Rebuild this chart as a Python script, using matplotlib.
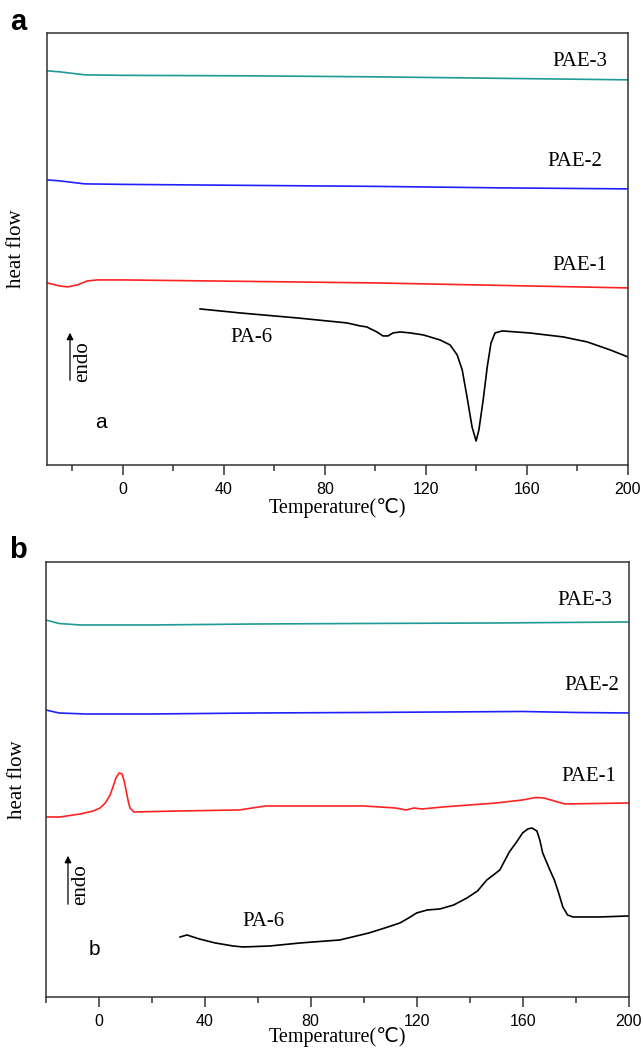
import matplotlib
matplotlib.use("Agg")
import matplotlib.pyplot as plt
from matplotlib.ticker import MultipleLocator

# ---- panel a data (temperature in C, heat flow in arbitrary units) ----
a_pae3_t = [-30, -25, -15, 0, 50, 100, 150, 200]
a_pae3_y = [394, 393, 390, 389.5, 389, 388, 386.5, 385]
a_pae2_t = [-30, -25, -15, 0, 50, 100, 150, 200]
a_pae2_y = [285, 284, 281, 280.5, 279.5, 278.5, 277, 276]
a_pae1_t = [-30, -25, -22, -18, -14, -10, 0, 50, 100, 150, 200]
a_pae1_y = [182, 179, 178, 180, 184, 185, 185, 183.5, 182, 179.5, 177]
a_pa6_t = [30.6, 46.4, 69, 88.8, 94, 96.6, 100.6, 103, 105, 107, 109.8, 113.8,
           119, 125.6, 129.6, 132.4, 134.4, 136.3, 138.3, 139.9, 141, 142.7,
           144.3, 145.8, 147.4, 150.2, 161, 174.4, 183.9, 193, 197, 200]
a_pa6_y = [156, 152, 147, 142, 139, 138, 133, 129, 129, 132, 133, 132,
           130, 125, 120, 110, 95, 68, 38, 24, 35, 65,
           98, 122, 132, 134, 132, 128, 123, 115, 111, 108]

# ---- panel b data ----
b_pae3_t = [-20, -15, -7, 20, 60, 100, 150, 200]
b_pae3_y = [377, 373.5, 372, 372, 373, 373.5, 374, 375]
b_pae2_t = [-20, -15, -5, 20, 60, 100, 160, 180, 200]
b_pae2_y = [287, 284, 283, 283, 284, 284.5, 285.5, 284.5, 284]
b_pae1_t = [-20, -14.6, -7, -2, 0.5, 2.5, 4.3, 5.5, 6.5, 7.7, 8.8, 9.6, 10.3,
            11.2, 11.8, 13.3, 30, 53, 58, 63, 87, 100, 112, 116, 119, 122, 130,
            150, 160, 165, 168, 172, 176, 200]
b_pae1_y = [180, 180, 183, 186, 189, 194, 202, 211, 219, 224, 223, 216, 207,
            195, 189, 185, 186, 187, 189, 191, 191, 191, 189, 187, 189, 188, 190,
            194, 197, 199.5, 199, 196, 193, 194]
b_pa6_t = [30.7, 33.3, 38, 44, 50.7, 54.5, 64.6, 76, 91, 102, 108, 113.7, 117,
           120, 124, 128.8, 134, 139, 143, 146.5, 149, 151.4, 155, 158, 160,
           162, 163.5, 165.4, 166.5, 167.6, 170.3, 172, 173.5, 175.2, 177, 179,
           189, 200]
b_pa6_y = [60, 62, 58, 54, 51, 50, 51, 54, 57, 64, 69, 74, 79,
           84, 87, 88, 92, 99, 106, 117, 122, 127, 145, 156, 164,
           168, 169, 166, 157, 144, 127, 117, 105, 90, 82, 80,
           80, 81]

teal = "#1f9a96"
blue = "#2020ff"
red = "#ff2222"
serif = "Liberation Serif"
sans = "Liberation Sans"

fig = plt.figure(figsize=(6.44, 10.52), dpi=100)
ax_a = fig.add_axes([0.073, 0.558, 0.902, 0.4108])
ax_b = fig.add_axes([0.071, 0.0523, 0.905, 0.4135])


def style_axis(ax, xmin, ymax, xlab_y, ylab_x):
    ax.set_xlim(xmin, 200)
    ax.set_ylim(0, ymax)
    ax.xaxis.set_major_locator(MultipleLocator(40))
    ax.xaxis.set_minor_locator(MultipleLocator(20))
    ax.set_yticks([])
    for s in ax.spines.values():
        s.set_linewidth(1.1)
        s.set_color("#333333")
    ax.tick_params(axis="x", which="major", direction="out", length=7,
                   width=1.1, color="#333333", labelsize=11.5, pad=5)
    ax.tick_params(axis="x", which="minor", direction="out", length=4,
                   width=1.1, color="#333333")
    for lab in ax.get_xticklabels():
        lab.set_fontfamily(sans)
    ax.set_xlabel("Temperature(℃)", fontfamily=[serif, "DejaVu Sans"],
                  fontsize=14.5)
    ax.xaxis.label.set_va("center")
    ax.xaxis.set_label_coords(0.5, xlab_y)
    ax.set_ylabel("heat flow", fontfamily=serif, fontsize=15)
    ax.yaxis.label.set_va("center")
    ax.yaxis.set_label_coords(ylab_x, 0.5)


# panel a
ax_a.plot(a_pae3_t, a_pae3_y, color=teal, lw=1.2)
ax_a.plot(a_pae2_t, a_pae2_y, color=blue, lw=1.2)
ax_a.plot(a_pae1_t, a_pae1_y, color=red, lw=1.2)
ax_a.plot(a_pa6_t, a_pa6_y, color="black", lw=1.2)
style_axis(ax_a, -30, 432, -0.1, -0.052)
ax_a.text(181, 403, "PAE-3", fontfamily=serif, fontsize=15, ha="center", va="center")
ax_a.text(179, 303, "PAE-2", fontfamily=serif, fontsize=15, ha="center", va="center")
ax_a.text(181, 199, "PAE-1", fontfamily=serif, fontsize=15, ha="center", va="center")
ax_a.text(51, 127, "PA-6", fontfamily=serif, fontsize=15, ha="center", va="center")
ax_a.text(-8.6, 42, "a", fontfamily=sans, fontsize=15, ha="center", va="center")
ax_a.annotate("", xy=(-20.9, 135), xytext=(-20.9, 82),
              arrowprops=dict(arrowstyle="-|>", color="black", lw=0.9,
                              mutation_scale=10))
ax_a.text(-16, 103, "endo", fontfamily=serif, fontsize=15, rotation=90,
          ha="center", va="center")
fig.text(0.028, 0.979, "a", fontfamily=sans, fontsize=21, fontweight="bold",
         ha="center", va="center")

# panel b
ax_b.plot(b_pae3_t, b_pae3_y, color=teal, lw=1.2)
ax_b.plot(b_pae2_t, b_pae2_y, color=blue, lw=1.2)
ax_b.plot(b_pae1_t, b_pae1_y, color=red, lw=1.2)
ax_b.plot(b_pa6_t, b_pa6_y, color="black", lw=1.2)
style_axis(ax_b, -20, 435, -0.092, -0.049)
ax_b.text(183.5, 396, "PAE-3", fontfamily=serif, fontsize=15, ha="center", va="center")
ax_b.text(186, 311, "PAE-2", fontfamily=serif, fontsize=15, ha="center", va="center")
ax_b.text(185, 220, "PAE-1", fontfamily=serif, fontsize=15, ha="center", va="center")
ax_b.text(62, 75, "PA-6", fontfamily=serif, fontsize=15, ha="center", va="center")
ax_b.text(-1.8, 47, "b", fontfamily=sans, fontsize=15, ha="center", va="center")
ax_b.annotate("", xy=(-11.6, 144), xytext=(-11.6, 90),
              arrowprops=dict(arrowstyle="-|>", color="black", lw=0.9,
                              mutation_scale=10))
ax_b.text(-7, 112, "endo", fontfamily=serif, fontsize=15, rotation=90,
          ha="center", va="center")
fig.text(0.028, 0.477, "b", fontfamily=sans, fontsize=21, fontweight="bold",
         ha="center", va="center")

fig.savefig("out.png", dpi=100)
